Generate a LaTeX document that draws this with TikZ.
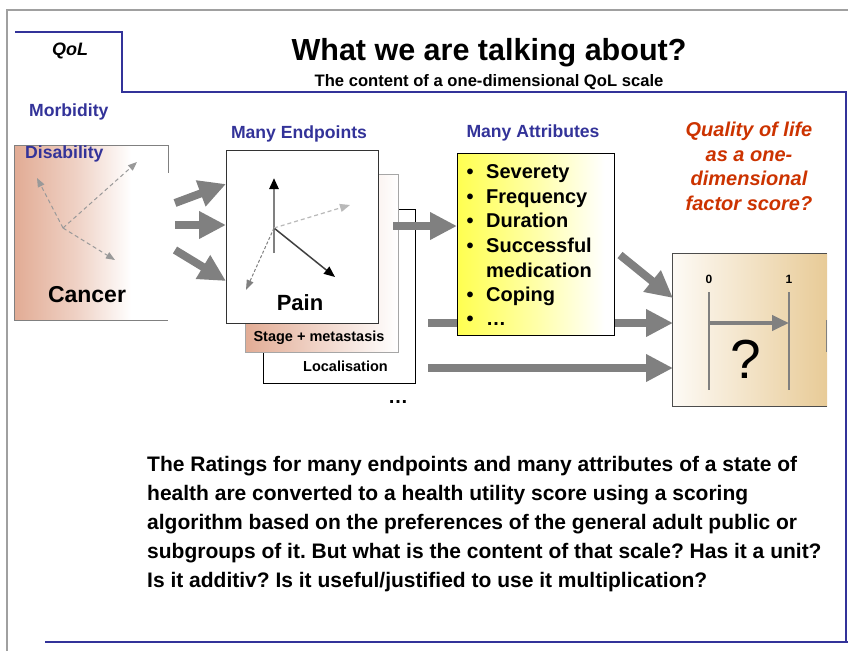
\documentclass[tikz,border=0pt]{standalone}
\usepackage{fontspec}
\setmainfont{Liberation Sans}
\usetikzlibrary{arrows.meta}
\frenchspacing
\definecolor{navy}{HTML}{333399}
\definecolor{framegray}{HTML}{A0A0A0}
\definecolor{qred}{HTML}{CC3300}
\definecolor{fatgray}{HTML}{808080}
\definecolor{salmon}{HTML}{E2AC95}
\colorlet{salmonmid}{salmon!55!white}
\definecolor{tan}{HTML}{E8CB97}
\definecolor{cream}{HTML}{FDFAF5}
\definecolor{lyellow}{HTML}{FFFF50}
\colorlet{lyellowmid}{lyellow!50!white}
\pgfdeclarehorizontalshading{cancershade}{100bp}{color(0bp)=(salmon); color(25bp)=(salmon); color(45bp)=(salmonmid); color(63bp)=(white); color(100bp)=(white)}
\pgfdeclarehorizontalshading{yellowshade}{100bp}{color(0bp)=(lyellow); color(25bp)=(lyellow); color(50bp)=(lyellowmid); color(72bp)=(white); color(100bp)=(white)}
\begin{document}
\frenchspacing
\begin{tikzpicture}[x=1pt,y=-1pt,
  lbl/.style={font=\fontsize{17.6}{20}\selectfont\bfseries, text=navy, inner sep=0, anchor=base},
  bul/.style={font=\fontsize{20}{24}\selectfont\bfseries, inner sep=0, anchor=base west},
  qtxt/.style={font=\fontsize{20}{24}\selectfont\bfseries\itshape, text=qred, inner sep=0, anchor=base},
  bodytxt/.style={font=\fontsize{21}{29}\selectfont\bfseries\frenchspacing, inner sep=0, anchor=base west},
  fatarrow/.style={draw=fatgray, line width=8pt, -{Triangle[length=27pt,width=26pt]}},
  dasharrow/.style={draw=gray!80, line width=1pt, dash pattern=on 4pt off 3pt, -{Triangle[length=9pt,width=7pt]}},
  box/.style={rectangle, inner sep=0}
]
\useasboundingbox (0,0) rectangle (848,651);
% frame
\draw[framegray, line width=2.5pt] (7,651) -- (7,10) -- (848,10);
\draw[navy, line width=2pt] (15,32) -- (122,32) -- (122,92) -- (847,92);
\draw[navy, line width=1.2pt] (846,92) -- (846,642);
\draw[navy, line width=2pt] (45,642) -- (848,642);
% headings
\node[font=\fontsize{18}{20}\selectfont\bfseries\itshape, inner sep=0, anchor=base] (qol) at (70,55) {QoL};
\node[font=\fontsize{30.5}{34}\selectfont\bfseries, inner sep=0, anchor=base] (title) at (489,60) {What we are talking about?};
\node[font=\fontsize{16.6}{18}\selectfont\bfseries, inner sep=0, anchor=base] (sub) at (489,86) {The content of a one-dimensional QoL scale};
\node[lbl, anchor=base west] (morb) at (29,116) {Morbidity};
% cancer box
\node[box, minimum width=153pt, minimum height=174pt, shading=cancershade] (cancer) at (91.5,233) {};
\draw[gray, line width=0.8pt] (cancer.north east) ++(0,27) -- (cancer.north east) -- (cancer.north west) -- (cancer.south west) -- (cancer.south east);
\node[lbl, anchor=base west] (disab) at (25,158) {Disability};
\coordinate (c0) at (63,228);
\coordinate (c1) at (37,178);
\coordinate (c2) at (137,162);
\coordinate (c3) at (115,260);
\draw[dasharrow] (c0) -- (c1);
\draw[dasharrow] (c0) -- (c2);
\draw[dasharrow] (c0) -- (c3);
\node[font=\fontsize{23}{26}\selectfont\bfseries, inner sep=0, anchor=base] (cancertxt) at (87,302) {Cancer};
% fat arrows cancer -> endpoints
\coordinate (f1s) at (175,203); \coordinate (f1e) at (226,184);
\coordinate (f2s) at (175,225); \coordinate (f2e) at (226,225);
\coordinate (f3s) at (175,250); \coordinate (f3e) at (226,281);
\draw[fatarrow] (f1s) -- (f1e);
\draw[fatarrow] (f2s) -- (f2e);
\draw[fatarrow] (f3s) -- (f3e);
% endpoints stack
\node[lbl] (eplbl) at (299,138) {Many Endpoints};
\node[box, minimum width=152pt, minimum height=174pt, fill=white, draw=black, line width=0.8pt] (card3) at (339,296) {};
\node[box, minimum width=153pt, minimum height=178pt, left color=salmon, right color=white, draw=gray!70, line width=0.8pt] (card2) at (321.5,263) {};
\node[box, minimum width=152pt, minimum height=173pt, fill=white, draw=black!80, line width=0.8pt] (ep) at (302,236.5) {};
\node[font=\fontsize{14.5}{16}\selectfont\bfseries, inner sep=0, anchor=base] (stage) at (319,341) {Stage + metastasis};
\node[font=\fontsize{14.5}{16}\selectfont\bfseries, inner sep=0, anchor=base east] (loc) at (388,371) {Localisation};
\node[font=\fontsize{20}{24}\selectfont\bfseries, inner sep=0, anchor=base] (dots1) at (398,403) {…};
% pain arrows
\coordinate (p0) at (274,228);
\coordinate (pb) at (274,253);
\coordinate (pt) at (274,178);
\coordinate (p1) at (335,277);
\coordinate (p2) at (350,205);
\coordinate (p3) at (246,290);
\draw[draw=fatgray, line width=2.5pt, -{Triangle[length=11pt,width=9pt,color=black]}] (pb) -- (pt);
\draw[draw=black!75, line width=1.5pt, -{Triangle[length=11pt,width=9pt,color=black]}] (p0) -- (p1);
\draw[draw=gray!55, line width=1.2pt, dash pattern=on 4pt off 3pt, -{Triangle[length=10pt,width=8pt]}] (p0) -- (p2);
\draw[draw=gray, line width=1pt, dash pattern=on 3pt off 2pt, -{Triangle[length=10pt,width=7pt]}] (p0) -- (p3);
\node[font=\fontsize{22}{26}\selectfont\bfseries, inner sep=0, anchor=base] (pain) at (300,310) {Pain};
% arrow endpoints -> attributes
\coordinate (g1s) at (393,226); \coordinate (g1e) at (457,226);
\draw[fatarrow] (g1s) -- (g1e);
% horizontal arrows behind attributes
\coordinate (h1s) at (428,323); \coordinate (h1e) at (673,323);
\coordinate (h2s) at (428,368); \coordinate (h2e) at (673,368);
\draw[fatarrow] (h1s) -- (h1e);
\draw[fatarrow] (h2s) -- (h2e);
% attributes box
\node[lbl] (atlbl) at (533,137) {Many Attributes};
\node[box, minimum width=157pt, minimum height=182pt, shading=yellowshade, draw=black, line width=0.8pt] (attr) at (535.5,244) {};
\foreach \yy/\tx/\b in {178/Severety/1, 203/Frequency/1, 227/Duration/1, 252/Successful/1, 277/medication/0, 301/Coping/1, 325/…/1}{
  \ifnum\b=1 \node[bul, anchor=base] at (470,\yy) {•};\fi
  \node[bul] at (486,\yy) {\tx};
}
% quality of life
\node[qtxt] (q1) at (749,136) {Quality of life};
\node[qtxt] (q2) at (749,161) {as a one-};
\node[qtxt] (q3) at (749,185) {dimensional};
\node[qtxt] (q4) at (749,210) {factor score?};
% scale box
\node[box, minimum width=154pt, minimum height=152pt, left color=cream, right color=tan] (scl) at (750,330) {};
\draw[black!70, line width=1pt] (scl.north east) -- (scl.north west) -- (scl.south west) -- (scl.south east);
\draw[black!50, line width=1pt] (826,320) -- (826,352);
\coordinate (d1s) at (620,255); \coordinate (d1e) at (673,298);
\draw[fatarrow] (d1s) -- (d1e);
\node[font=\fontsize{12}{14}\selectfont\bfseries, inner sep=0, anchor=base] (zero) at (709,283) {0};
\node[font=\fontsize{12}{14}\selectfont\bfseries, inner sep=0, anchor=base] (one) at (789,283) {1};
\coordinate (s0t) at (709,292); \coordinate (s0b) at (709,390);
\coordinate (s1t) at (789,292); \coordinate (s1b) at (789,390);
\draw[fatgray, line width=1.5pt] (s0t) -- (s0b);
\draw[fatgray, line width=1.5pt] (s1t) -- (s1b);
\coordinate (sa) at (709,323); \coordinate (sb) at (789,323);
\draw[draw=fatgray, line width=4pt, -{Triangle[length=17pt,width=15pt]}] (sa) -- (sb);
\node[font=\fontsize{55}{60}\selectfont, inner sep=0, anchor=base] (qm) at (746,378) {?};
% body text
\node[bodytxt] (b1) at (147,471) {The Ratings for many endpoints and many attributes of a state of};
\node[bodytxt] (b2) at (147,500) {health are converted to a health utility score using a scoring};
\node[bodytxt] (b3) at (147,529) {algorithm based on the preferences of the general adult public or};
\node[bodytxt] (b4) at (147,558) {subgroups of it. But what is the content of that scale? Has it a unit?};
\node[bodytxt] (b5) at (147,587) {Is it additiv? Is it useful/justified to use it multiplication?};
\end{tikzpicture}
\end{document}
